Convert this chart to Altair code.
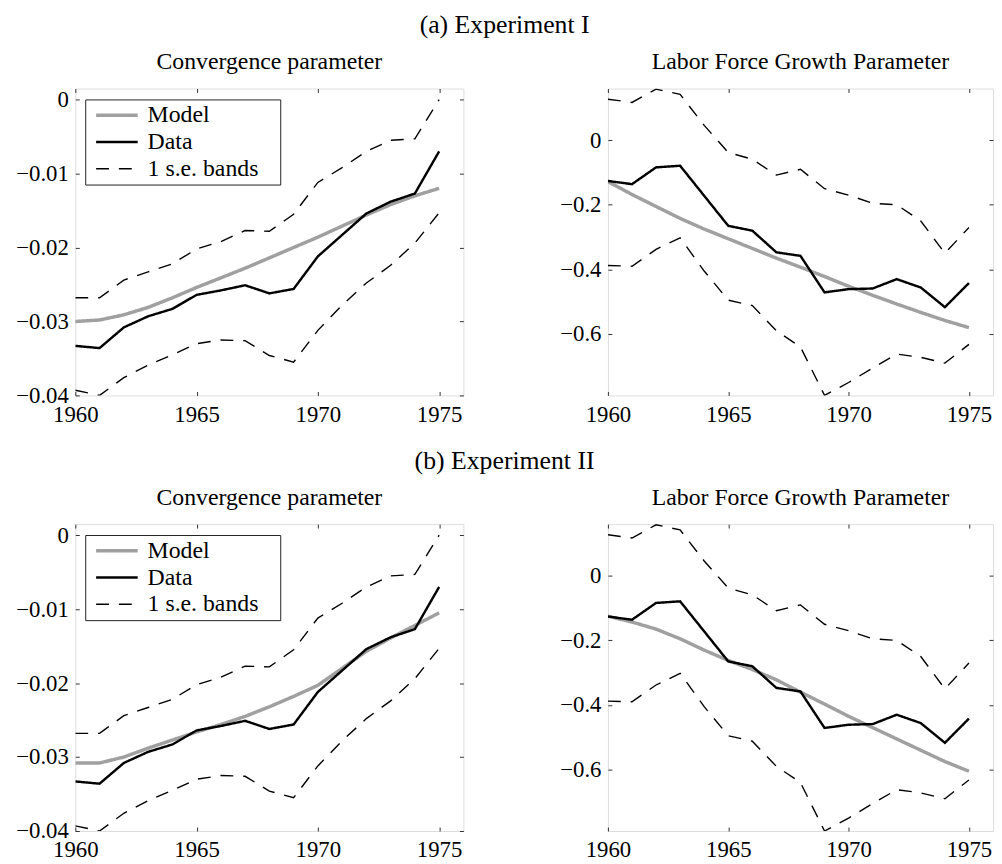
import altair as alt
import pandas as pd

years = list(range(1960, 1976))

# Convergence parameter (same data & bands in both experiments)
conv_data = [-0.0333, -0.0336, -0.0308, -0.0293, -0.0283, -0.0264, -0.0258, -0.0251,
             -0.0262, -0.0256, -0.0212, -0.0183, -0.0154, -0.0138, -0.0127, -0.0070]
conv_upper = [-0.0268, -0.0268, -0.0244, -0.0233, -0.0222, -0.0202, -0.0192, -0.0177,
              -0.0178, -0.0155, -0.0112, -0.0092, -0.0070, -0.0055, -0.0053, 0.0000]
conv_lower = [-0.0393, -0.0400, -0.0376, -0.0359, -0.0345, -0.0330, -0.0325, -0.0326,
              -0.0346, -0.0355, -0.0312, -0.0278, -0.0248, -0.0224, -0.0194, -0.0153]
conv_model_1 = [-0.0300, -0.0298, -0.0291, -0.0281, -0.0268, -0.0254, -0.0241, -0.0228,
                -0.0214, -0.0200, -0.0186, -0.0171, -0.0156, -0.0142, -0.0130, -0.0120]
conv_model_2 = [-0.0308, -0.0308, -0.0300, -0.0288, -0.0277, -0.0266, -0.0256, -0.0245,
                -0.0232, -0.0218, -0.0203, -0.0180, -0.0157, -0.0139, -0.0122, -0.0105]

# Labor force growth parameter
labor_data = [-0.126, -0.136, -0.084, -0.079, -0.172, -0.265, -0.280, -0.347,
              -0.358, -0.471, -0.461, -0.459, -0.430, -0.456, -0.517, -0.442]
labor_upper = [0.127, 0.117, 0.158, 0.142, 0.046, -0.038, -0.059, -0.108,
               -0.090, -0.150, -0.170, -0.195, -0.200, -0.250, -0.350, -0.270]
labor_lower = [-0.388, -0.390, -0.338, -0.302, -0.405, -0.495, -0.512, -0.590,
               -0.640, -0.790, -0.750, -0.705, -0.662, -0.672, -0.690, -0.632]
labor_model_1 = [-0.128, -0.168, -0.205, -0.242, -0.275, -0.305, -0.335, -0.365,
                 -0.393, -0.422, -0.452, -0.480, -0.507, -0.533, -0.558, -0.580]
labor_model_2 = [-0.125, -0.143, -0.165, -0.195, -0.230, -0.262, -0.290, -0.322,
                 -0.360, -0.397, -0.435, -0.470, -0.505, -0.540, -0.575, -0.605]

series_names = ["Model", "Data", "1 s.e. bands"]
x_ticks = [1960, 1965, 1970, 1975]
conv_ticks = [0, -0.01, -0.02, -0.03, -0.04]
labor_ticks = [0, -0.2, -0.4, -0.6]
conv_domain = [-0.0400, 0.0015]
labor_domain = [-0.79, 0.16]

FONT = "Liberation Serif"
TICK = 4


def make_df(model, data, upper, lower):
    rows = []
    for line, vals, series in [("upper", upper, "1 s.e. bands"),
                               ("lower", lower, "1 s.e. bands"),
                               ("model", model, "Model"),
                               ("data", data, "Data")]:
        for yr, v in zip(years, vals):
            rows.append({"year": yr, "value": v, "series": series, "line": line})
    return pd.DataFrame(rows)


def panel(df, title, ydomain, yticks, yfmt, width, show_legend):
    if show_legend:
        leg = alt.Legend(title=None, orient="none", legendX=10, legendY=11,
                         symbolType="M-4.2,0L4.2,0", symbolSize=100,
                         labelFont=FONT, labelFontSize=24, labelColor="black",
                         labelExpr="datum.label + '\u2800'",
                         strokeColor="#222", fillColor="white", padding=4,
                         rowPadding=3, labelOffset=19, symbolOffset=16,
                         labelLimit=400)
    else:
        leg = None
    xscale = alt.Scale(domain=[1960, 1976], nice=False, zero=False)
    yscale = alt.Scale(domain=ydomain, nice=False, zero=False)

    lines = alt.Chart(df).mark_line(clip=True).encode(
        x=alt.X("year:Q", scale=xscale,
                axis=alt.Axis(values=x_ticks, format="d", title=None, grid=False,
                              domain=False, ticks=True, tickSize=TICK, offset=-TICK,
                              tickColor="#333", labelPadding=8, labelFlush=False,
                              labelFont=FONT, labelFontSize=23, labelColor="black")),
        y=alt.Y("value:Q", scale=yscale,
                axis=alt.Axis(values=yticks, title=None, grid=False, domain=False,
                              ticks=True, tickSize=TICK, offset=-TICK,
                              tickColor="#333", labelPadding=7, labelFlush=False,
                              labelFont=FONT, labelFontSize=23, labelColor="black",
                              labelExpr=f"datum.value == 0 ? '0' : format(datum.value, '{yfmt}')")),
        color=alt.Color("series:N",
                        scale=alt.Scale(domain=series_names,
                                        range=["#a0a0a0", "#000000", "#000000"]),
                        legend=leg),
        strokeDash=alt.StrokeDash("series:N",
                                  scale=alt.Scale(domain=series_names,
                                                  range=[[1, 0], [1, 0], [13, 10]]),
                                  legend=leg),
        strokeWidth=alt.StrokeWidth("series:N",
                                    scale=alt.Scale(domain=series_names,
                                                    range=[3.5, 1.4, 1.4]),
                                    legend=leg),
        detail="line:N",
    )

    # mirrored inward ticks on the top and right edges (box-style axes)
    mirror = alt.Chart(df).mark_line(opacity=0).encode(
        x=alt.X("year:Q", scale=xscale,
                axis=alt.Axis(values=x_ticks, orient="top", title=None, grid=False,
                              domain=False, labels=False, ticks=True, tickSize=TICK,
                              offset=-TICK, tickColor="#333")),
        y=alt.Y("value:Q", scale=yscale,
                axis=alt.Axis(values=yticks, orient="right", title=None, grid=False,
                              domain=False, labels=False, ticks=True, tickSize=TICK,
                              offset=-TICK, tickColor="#333")),
        detail="line:N",
    )

    return alt.layer(lines, mirror).resolve_axis(
        x="independent", y="independent"
    ).properties(
        width=width, height=310,
        title=alt.TitleParams(title, font=FONT, fontSize=24, fontWeight="normal",
                              color="black", offset=14)
    )


df_c1 = make_df(conv_model_1, conv_data, conv_upper, conv_lower)
df_l1 = make_df(labor_model_1, labor_data, labor_upper, labor_lower)
df_c2 = make_df(conv_model_2, conv_data, conv_upper, conv_lower)
df_l2 = make_df(labor_model_2, labor_data, labor_upper, labor_lower)


def row(c_df, l_df, title):
    return alt.hconcat(
        panel(c_df, "Convergence parameter", conv_domain, conv_ticks, ".2f", 392, True),
        panel(l_df, "Labor Force Growth Parameter", labor_domain, labor_ticks, ".1f", 389, False),
        spacing=146, bounds="flush",
        title=alt.TitleParams(title, font=FONT, fontSize=26, fontWeight="normal",
                              color="black", anchor="middle", offset=12),
    ).resolve_scale(color="independent", strokeDash="independent",
                    strokeWidth="independent")


chart = alt.vconcat(
    row(df_c1, df_l1, "(a) Experiment I"),
    row(df_c2, df_l2, "(b) Experiment II"),
    spacing=21,
).resolve_scale(
    color="independent", strokeDash="independent", strokeWidth="independent"
).properties(
    padding={"left": 7, "right": 0, "top": 0, "bottom": 0}
).configure_view(
    stroke="#222", strokeWidth=1
).configure(background="white")

chart.save("out.html", embed_options={"renderer": "svg", "actions": False})
